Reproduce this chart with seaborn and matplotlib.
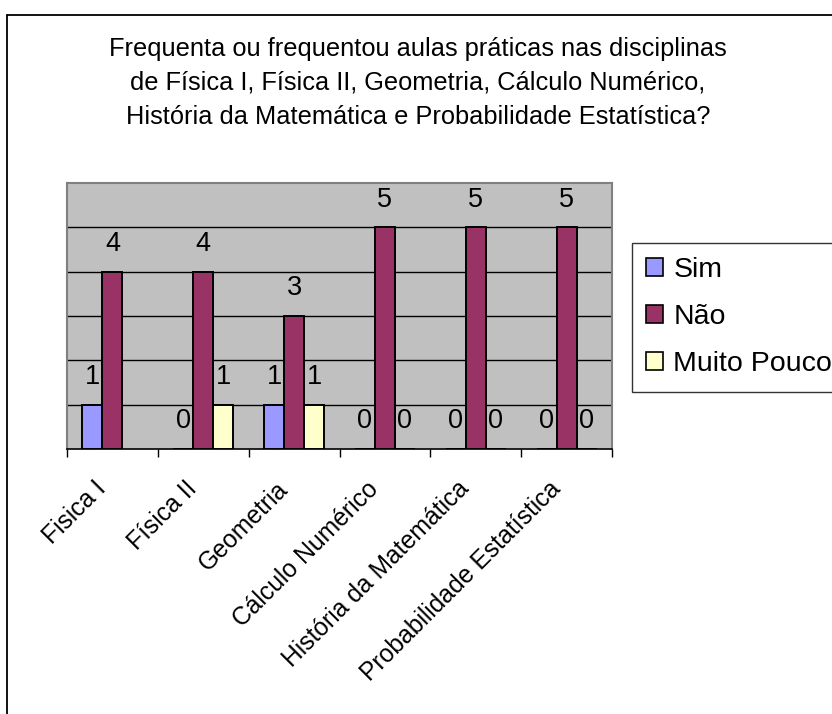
import numpy as np
import pandas as pd
import matplotlib
matplotlib.use("Agg")
import matplotlib.pyplot as plt
from matplotlib.lines import Line2D
from matplotlib.patches import Patch
from matplotlib.transforms import ScaledTranslation
import seaborn as sns

# Survey answers per subject
subjects = ["Fisica I", "Física II", "Geometria", "Cálculo Numérico",
            "História da Matemática", "Probabilidade Estatística"]
answers = ["Sim", "Não", "Muito Pouco"]
sim = [1, 0, 1, 0, 0, 0]
nao = [4, 4, 3, 5, 5, 5]
muito_pouco = [np.nan, 1, 1, 0, 0, 0]

title = ("Frequenta ou frequentou aulas práticas nas disciplinas\n"
         "de Física I, Física II, Geometria, Cálculo Numérico,\n"
         "História da Matemática e Probabilidade Estatística?")

colors = {"Sim": "#9999FF", "Não": "#993366", "Muito Pouco": "#FFFFCC"}

df = pd.DataFrame({
    "Disciplina": subjects * 3,
    "Resposta": [a for a in answers for _ in subjects],
    "Valor": sim + nao + muito_pouco,
})

sns.set_theme(style="white")
plt.rcParams["font.family"] = ["Liberation Sans", "DejaVu Sans"]
plt.rcParams["text.color"] = "black"
plt.rcParams["xtick.color"] = "black"
plt.rcParams["xtick.labelcolor"] = "black"

W, H = 832, 714
fig = plt.figure(figsize=(W / 100, H / 100), dpi=100)
ax = fig.add_axes([67 / W, 1 - 449 / H, (612 - 67) / W, (449 - 183) / H])
ax.set_facecolor("#C0C0C0")

sns.barplot(data=df, x="Disciplina", y="Valor", hue="Resposta",
            hue_order=answers, order=subjects, palette=colors,
            saturation=1, width=0.66, edgecolor="black", linewidth=1.4,
            errorbar=None, ax=ax, zorder=3)
if ax.legend_ is not None:
    ax.legend_.remove()

ax.set_xlim(-0.5, len(subjects) - 0.5)
ax.set_ylim(0, 6)
ax.set_xlabel("")
ax.set_ylabel("")

# horizontal gridlines at each unit
ax.set_yticks([1, 2, 3, 4, 5])
ax.set_yticklabels([])
ax.tick_params(axis="y", length=0)
ax.grid(axis="y", color="black", linewidth=1.0)
ax.grid(axis="x", visible=False)
ax.set_axisbelow(True)

for side in ["left", "top", "right"]:
    ax.spines[side].set_color("#808080")
    ax.spines[side].set_linewidth(1.5)
ax.spines["bottom"].set_color("black")
ax.spines["bottom"].set_linewidth(1.2)

# category separators below the axis
ax.set_xticks(np.arange(-0.5, len(subjects), 1.0), minor=True)
ax.tick_params(axis="x", which="minor", length=6, width=1.0,
               color="black", direction="out", bottom=True)
ax.tick_params(axis="x", which="major", length=0, pad=26, labelsize=17.8,
               labelcolor="black")
shift = ScaledTranslation(-10 / 100, 0, fig.dpi_scale_trans)
for lbl in ax.get_xticklabels():
    lbl.set_rotation(45)
    lbl.set_ha("right")
    lbl.set_va("center")
    lbl.set_rotation_mode("anchor")
    lbl.set_transform(lbl.get_transform() + shift)

# value labels above each bar
for cont in ax.containers:
    ax.bar_label(cont, fmt="{:.0f}", padding=10.5, fontsize=19.5,
                 color="black")

fig.text(418 / W, 1 - 37 / H, title, ha="center", va="top",
         fontsize=18.3, linespacing=1.52, color="black")

handles = [Patch(facecolor=colors[a], edgecolor="black", linewidth=1.2)
           for a in answers]
leg = fig.legend(handles, answers, loc="upper left",
                 bbox_to_anchor=(632 / W, 1 - 243 / H),
                 fontsize=20.5, frameon=True, fancybox=False,
                 handlelength=0.6, handleheight=0.6,
                 handletextpad=0.35, labelspacing=0.74,
                 borderpad=0.5, borderaxespad=0)
leg.get_frame().set_edgecolor("black")
leg.get_frame().set_linewidth(1.0)
for t in leg.get_texts():
    t.set_color("black")

# outer chart border
fig.add_artist(Line2D([7 / W, 7 / W], [0, 1 - 15 / H],
                      transform=fig.transFigure, color="black", lw=1.3))
fig.add_artist(Line2D([7 / W, 1], [1 - 15 / H, 1 - 15 / H],
                      transform=fig.transFigure, color="black", lw=1.3))

fig.savefig("out.png", dpi=100)
